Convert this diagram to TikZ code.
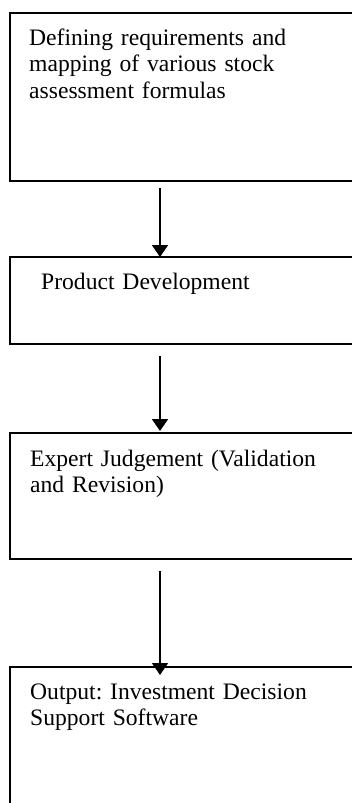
\documentclass[tikz,border=0pt]{standalone}
\usepackage{fontspec}
\setmainfont{Liberation Serif}
\usetikzlibrary{arrows.meta}
\tikzset{
  box/.style={draw=black, line width=2pt, rectangle, inner sep=0pt, anchor=north west, minimum width=420pt},
  txt/.style={anchor=base west, inner sep=0pt, align=left, text width=330pt,
    font=\fontsize{23.6pt}{26.8pt}\selectfont\frenchspacing},
  arr/.style={line width=1.8pt, -{Triangle[length=12pt,width=16pt]}}
}
\begin{document}
\begin{tikzpicture}[x=1pt,y=-1pt]
\useasboundingbox (0,0) rectangle (352,803);
\clip (0,0) rectangle (352,803);
\fill[white] (0,0) rectangle (352,803);
\node[box, minimum height=168pt] (b1) at (9,12) {};
\node[box, minimum height=87pt] (b2) at (9,256) {};
\node[box, minimum height=126pt] (b3) at (9,432) {};
\node[box, minimum height=200pt] (b4) at (9,666) {};
\node[txt] (t1) at (29,45) {Defining requirements and\\mapping of various stock\\assessment formulas};
\node[txt] (t2) at (41,289) {Product Development};
\node[txt] (t3) at (30,466) {Expert Judgement (Validation\\and Revision)};
\node[txt] (t4) at (30,699) {Output: Investment Decision\\Support Software};
\coordinate (ax) at (160,0);
\draw[arr] ([yshift=-6pt]b1.south -| ax) -- ([yshift=-1pt]b2.north -| ax);
\draw[arr] ([yshift=-11pt]b2.south -| ax) -- ([yshift=1pt]b3.north -| ax);
\draw[arr] ([yshift=-11pt]b3.south -| ax) -- ([yshift=-9pt]b4.north -| ax);
\end{tikzpicture}
\end{document}
